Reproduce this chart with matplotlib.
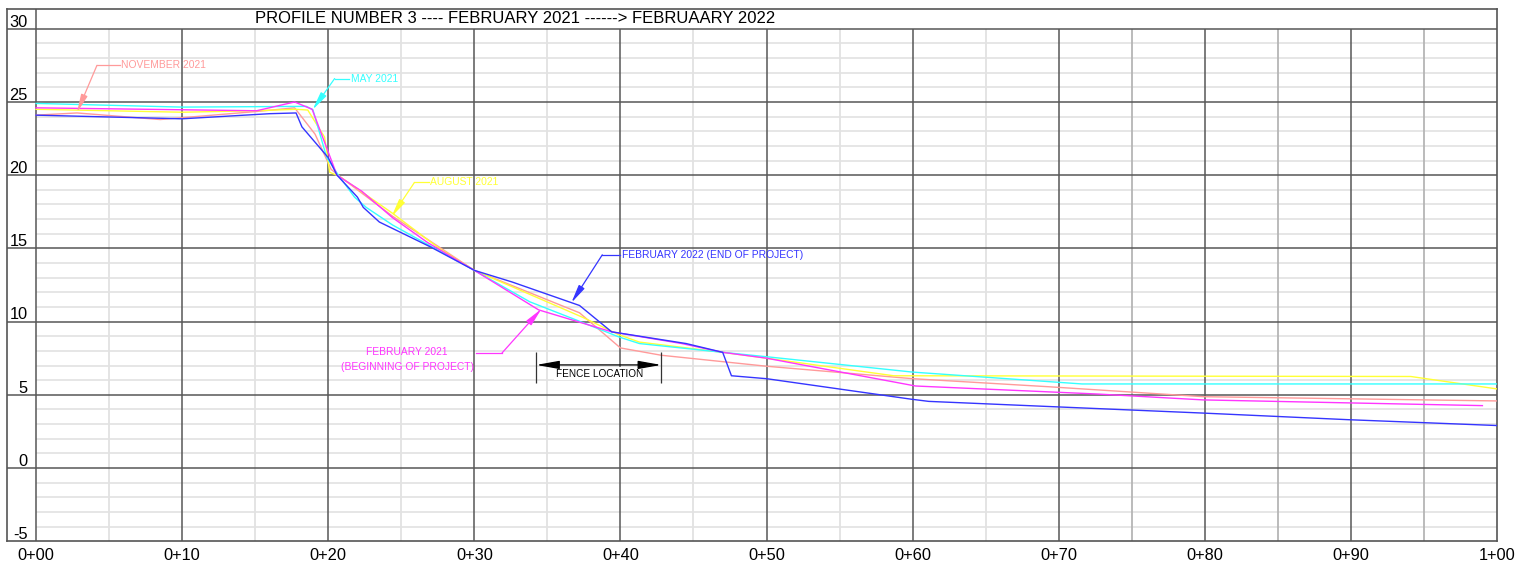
import matplotlib
matplotlib.use("Agg")
import matplotlib.pyplot as plt

plt.rcParams['font.family'] = ['Liberation Sans', 'DejaVu Sans']

# ---------------- data ----------------
title = "PROFILE NUMBER 3 ---- FEBRUARY 2021 ------> FEBRUAARY 2022"
x_tick_vals = [0, 10, 20, 30, 40, 50, 60, 70, 80, 90, 100]
x_tick_labels = ["0+00", "0+10", "0+20", "0+30", "0+40", "0+50",
                 "0+60", "0+70", "0+80", "0+90", "1+00"]
y_label_vals = [30, 25, 20, 15, 10, 5, 0, -5]

feb2021_x = [0, 15.1, 17.7, 18.9, 20.6, 22.3, 24.4, 26.8, 30, 34.4, 39.4, 44.2, 47, 50, 60.2, 69.3, 72.7, 79.9, 99]
feb2021_y = [24.6, 24.4, 25.0, 24.5, 20.0, 18.9, 17.1, 15.4, 13.5, 10.8, 9.3, 8.5, 7.9, 7.5, 5.6, 5.2, 5.05, 4.65, 4.26]

may2021_x = [0, 10, 18.5, 18.95, 19.9, 20.7, 21.8, 22.6, 24.4, 30, 33.8, 37, 39.9, 41.3, 47, 50, 60, 69.3, 71.6, 100]
may2021_y = [24.9, 24.65, 24.7, 24.47, 21.2, 20.0, 18.5, 17.8, 16.6, 13.5, 11.35, 10.1, 8.95, 8.5, 7.9, 7.6, 6.55, 5.9, 5.74, 5.74]

aug2021_x = [0, 10, 15, 17.8, 18.6, 19.75, 20.1, 20.8, 24.4, 27.6, 30, 37.4, 39.9, 41.3, 47, 50, 58.7, 94.1, 100]
aug2021_y = [24.5, 24.3, 24.4, 24.5, 24.45, 22.6, 20.2, 19.9, 17.4, 15.0, 13.5, 10.3, 9.1, 8.6, 7.9, 7.5, 6.3, 6.25, 5.4]

nov2021_x = [0, 2.8, 8.5, 15.1, 17.7, 19.1, 20.2, 20.8, 24.4, 30, 37.2, 40, 42.8, 50, 60, 69.3, 79.9, 100]
nov2021_y = [24.1, 24.25, 23.8, 24.35, 24.6, 22.8, 20.4, 19.9, 17.2, 13.5, 10.6, 8.2, 7.7, 6.95, 6.1, 5.55, 4.87, 4.58]

feb2022_x = [0, 10, 16, 17.8, 18.2, 20.0, 20.6, 22.0, 22.4, 23.5, 27.0, 30, 32.6, 37.2, 39.4, 44.5, 47, 47.6, 50, 59.9, 61.1, 69.3, 79.9, 89.8, 100]
feb2022_y = [24.1, 23.85, 24.2, 24.25, 23.3, 21.2, 20.0, 18.5, 17.8, 16.8, 15.1, 13.5, 12.7, 11.1, 9.3, 8.5, 7.9, 6.3, 6.1, 4.7, 4.55, 4.2, 3.75, 3.3, 2.9]

label_nov = "NOVEMBER 2021"
label_may = "MAY 2021"
label_aug = "AUGUST 2021"
label_feb22 = "FEBRUARY 2022 (END OF PROJECT)"
label_feb21 = "FEBRUARY 2021\n(BEGINNING OF PROJECT)"
label_fence = "FENCE LOCATION"

c_blue = '#3535ff'
c_mag = '#ff35ff'
c_cyan = '#35ffff'
c_yel = '#ffff35'
c_sal = '#ff9a9a'

# ---------------- figure ----------------
W, H = 1533, 567
fig = plt.figure(figsize=(W / 100, H / 100), dpi=100)
ax = fig.add_axes([6.8 / W, 1 - 541.2 / H, 1490.2 / W, (541.2 - 9) / H])
ax.set_xlim(-2, 100)
ax.set_ylim(-5, 31.35)

for s in ax.spines.values():
    s.set_color('#555555')
    s.set_linewidth(1.2)

major_c = '#575757'
# minor horizontal
ax.hlines([v for v in range(-4, 30) if v % 5 != 0], 0, 100, color='#e4e4e4', lw=1.3, zorder=1)
# minor vertical
ax.vlines([5, 15, 25, 35, 45, 55, 65], -5, 30, color='#e2e2e2', lw=1.3, zorder=1)
ax.vlines([75, 85, 95], -5, 30, color='#b5b5b5', lw=1.3, zorder=1)
# major vertical
ax.vlines([10, 20, 30, 40, 50, 60, 70, 80, 90], -5, 30, color=major_c, lw=1.1, zorder=2)
ax.axvline(0, color=major_c, lw=1.1, zorder=2)
# major horizontal
for v in [0, 5, 10, 15, 20, 25, 30]:
    ax.axhline(v, color=major_c, lw=1.1, zorder=2)

ax.set_xticks(x_tick_vals)
ax.set_xticklabels(x_tick_labels)
ax.tick_params(axis='x', length=0, pad=5, labelsize=11.8)
ax.set_yticks([])

for v in y_label_vals:
    ax.text(-0.55, v + 0.15, str(v), ha='right', va='baseline', fontsize=11.8, zorder=5)

ax.text(32.8, 30.68, title, ha='center', va='center', fontsize=12, zorder=5)

lw = 1.0
ax.plot(nov2021_x, nov2021_y, color=c_sal, lw=lw, zorder=3)
ax.plot(aug2021_x, aug2021_y, color=c_yel, lw=lw, zorder=3)
ax.plot(may2021_x, may2021_y, color=c_cyan, lw=lw, zorder=3)
ax.plot(feb2021_x, feb2021_y, color=c_mag, lw=lw, zorder=3)
ax.plot(feb2022_x, feb2022_y, color=c_blue, lw=lw, zorder=3)

afs = 7.4


def leader(color, tip, elbow, end):
    ap = dict(arrowstyle='-|>,head_length=1.1,head_width=0.2', color=color, lw=0.9,
              shrinkA=0, shrinkB=0, mutation_scale=10)
    ax.annotate('', xy=tip, xytext=elbow, arrowprops=ap, zorder=4)
    ax.plot([elbow[0], end], [elbow[1], elbow[1]], color=color, lw=0.9, zorder=4)


leader(c_sal, (2.8, 24.27), (4.17, 27.5), 5.75)
ax.text(5.85, 27.5, label_nov, color=c_sal, fontsize=afs, ha='left', va='center', zorder=5)

leader(c_cyan, (18.93, 24.47), (20.44, 26.6), 21.45)
ax.text(21.53, 26.6, label_may, color=c_cyan, fontsize=afs, ha='left', va='center', zorder=5)

leader(c_yel, (24.33, 17.16), (25.9, 19.5), 26.9)
ax.text(26.98, 19.5, label_aug, color=c_yel, fontsize=afs, ha='left', va='center', zorder=5)

leader(c_blue, (36.64, 11.28), (38.76, 14.56), 40.0)
ax.text(40.12, 14.56, label_feb22, color=c_blue, fontsize=afs, ha='left', va='center', zorder=5)

leader(c_mag, (34.6, 10.87), (31.9, 7.86), 30.1)
ax.text(29.95, 7.4, label_feb21, color=c_mag, fontsize=afs, ha='right', va='center',
        multialignment='center', linespacing=1.55, zorder=5)

# fence location dimension
ax.text(38.55, 6.45, label_fence, color='black', fontsize=7.2, ha='center', va='center', zorder=4,
        bbox=dict(facecolor='white', edgecolor='none', pad=1.0))
ax.vlines([34.24, 42.79], 5.81, 7.93, color='#333333', lw=0.9, zorder=5)
ax.annotate('', xy=(34.24, 7.04), xytext=(42.79, 7.04),
            arrowprops=dict(arrowstyle='<|-|>,head_length=1.4,head_width=0.25', color='black', lw=0.9,
                            shrinkA=0, shrinkB=0, mutation_scale=10), zorder=5)

fig.savefig('out.png', dpi=100, facecolor='white')
